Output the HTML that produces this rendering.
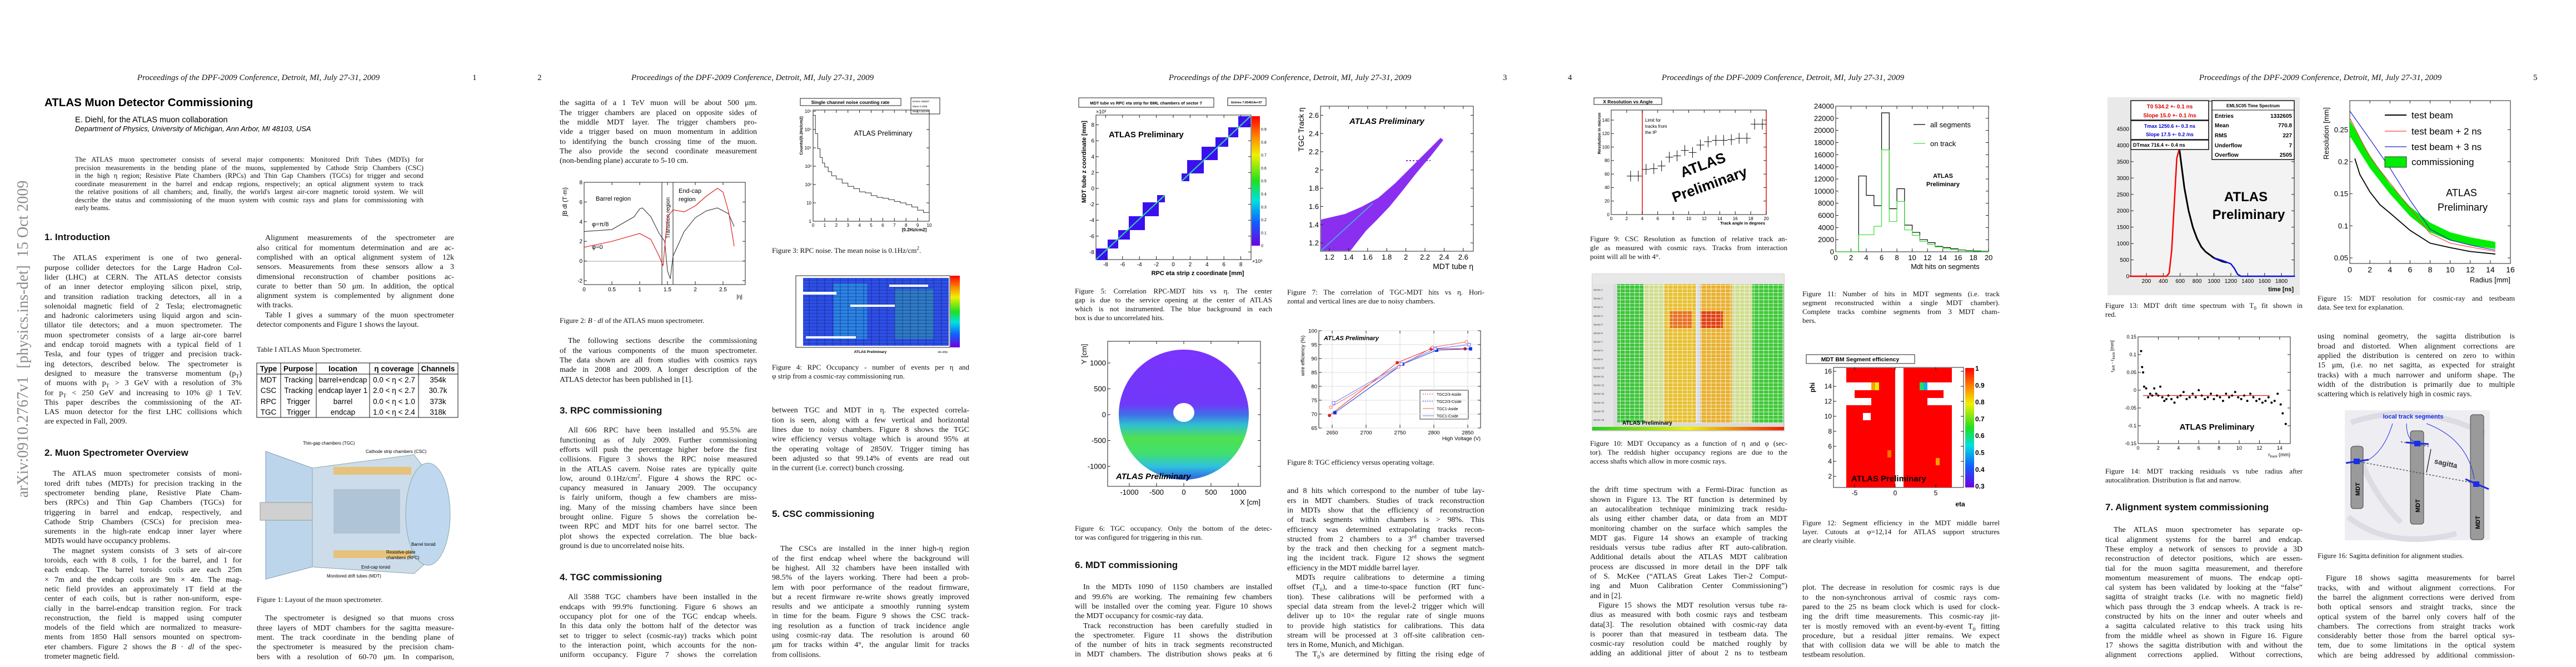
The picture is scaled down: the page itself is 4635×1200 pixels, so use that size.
<!DOCTYPE html>
<html><head><meta charset="utf-8">
<style>
body{margin:0;background:#fff;}
#root{position:relative;width:4635px;height:1200px;overflow:hidden;background:#fff;}
.pg{position:absolute;top:0;width:927px;height:1200px;}
.hdr{position:absolute;top:132px;font:italic 15px "Liberation Serif",serif;color:#111;white-space:nowrap;transform:translateX(-50%);}
.pn{position:absolute;top:132px;font:15px "Liberation Serif",serif;color:#111;}
.tb{position:absolute;width:355px;font:14px/17.3px "Liberation Serif",serif;color:#111;}
.l{white-space:nowrap;text-align:justify;text-align-last:justify;height:17.3px;}
.e{text-align-last:left;}
.i{padding-left:15px;}
.cap{position:absolute;width:355px;font:13px/16px "Liberation Serif",serif;color:#111;}
.cap .l{height:16px;}
.h{position:absolute;font:bold 17px/20px "Liberation Sans",sans-serif;color:#111;white-space:nowrap;}
sub{font-size:70%;line-height:0;}
sup{font-size:70%;line-height:0;}
svg text{font-family:"Liberation Sans",sans-serif;}
</style></head><body>
<div id="root">

<svg id="figs" width="4635" height="1200" style="position:absolute;left:0;top:0">
<defs>
<linearGradient id="cbar" x1="0" y1="0" x2="0" y2="1"><stop offset="0" stop-color="#ff0000"/><stop offset="0.15" stop-color="#ff8000"/><stop offset="0.3" stop-color="#f0f000"/><stop offset="0.5" stop-color="#20e020"/><stop offset="0.65" stop-color="#00e0e0"/><stop offset="0.82" stop-color="#1060ff"/><stop offset="1" stop-color="#7000e0"/></linearGradient>
<linearGradient id="gyr" x1="0" y1="0" x2="1" y2="0"><stop offset="0" stop-color="#20d020"/><stop offset="0.5" stop-color="#f0f000"/><stop offset="1" stop-color="#f02000"/></linearGradient>
<linearGradient id="tgcgrad" x1="0" y1="0" x2="0" y2="1"><stop offset="0" stop-color="#7a33ff"/><stop offset="0.42" stop-color="#7038f8"/><stop offset="0.5" stop-color="#4070e8"/><stop offset="0.58" stop-color="#30c0d0"/><stop offset="0.68" stop-color="#50e050"/><stop offset="0.8" stop-color="#40e070"/><stop offset="0.9" stop-color="#30c0e0"/><stop offset="1" stop-color="#3060e0"/></linearGradient>
<pattern id="cells" width="8.6" height="6.5" patternUnits="userSpaceOnUse"><rect width="8.6" height="6.5" fill="none" stroke="#ffffff" stroke-width="0.7"/></pattern>
<pattern id="rpccells" width="14" height="6" patternUnits="userSpaceOnUse"><rect width="14" height="6" fill="none" stroke="#10207a" stroke-width="0.6"/></pattern>
</defs>

<!-- Figure 1 detector -->
<g>
<polygon points="478,812 562,842 562,1020 478,1042" fill="#bcd5ea" stroke="#7f9fbd"/>
<rect x="468" y="904" width="95" height="32" fill="#d0d0d0" stroke="#999"/>
<polygon points="562,842 745,818 792,880 792,990 745,1032 562,1020" fill="#cddcea" stroke="#8aa"/>
<rect x="600" y="840" width="140" height="14" fill="#e6c27a"/>
<rect x="600" y="990" width="140" height="14" fill="#e6c27a"/>
<rect x="600" y="880" width="120" height="80" fill="#b0c4d8"/>
<ellipse cx="770" cy="925" rx="40" ry="92" fill="#bfd8ef" stroke="#8aa"/>
<text x="545" y="800" font-size="8">Thin-gap chambers (TGC)</text>
<text x="658" y="815" font-size="8">Cathode strip chambers (CSC)</text>
<text x="740" y="982" font-size="8">Barrel toroid</text>
<text x="695" y="996" font-size="8">Resistive-plate</text>
<text x="695" y="1006" font-size="8">chambers (RPC)</text>
<text x="650" y="1023" font-size="8">End-cap toroid</text>
<text x="588" y="1039" font-size="8">Monitored drift tubes (MDT)</text>
</g>

<!-- Table I -->
<g font-family="Liberation Serif" font-size="13.5">
<rect x="462" y="653" width="362" height="98" fill="none" stroke="#111"/>
<line x1="462" y1="673" x2="824" y2="673" stroke="#111"/>
<line x1="505" y1="653" x2="505" y2="751" stroke="#111"/><line x1="569" y1="653" x2="569" y2="751" stroke="#111"/>
<line x1="665" y1="653" x2="665" y2="751" stroke="#111"/><line x1="753" y1="653" x2="753" y2="751" stroke="#111"/>
<g font-family="Liberation Serif" font-weight="bold" text-anchor="middle">
<text x="483" y="668" font-family="Liberation Serif">Type</text><text x="537" y="668" font-family="Liberation Serif">Purpose</text><text x="617" y="668" font-family="Liberation Serif">location</text><text x="709" y="668" font-family="Liberation Serif">η coverage</text><text x="788" y="668" font-family="Liberation Serif">Channels</text></g>
<g text-anchor="middle">
<text x="483" y="688" font-family="Liberation Serif">MDT</text><text x="537" y="688" font-family="Liberation Serif">Tracking</text><text x="617" y="688" font-family="Liberation Serif">barrel+endcap</text><text x="709" y="688" font-family="Liberation Serif">0.0 &lt; η &lt; 2.7</text><text x="788" y="688" font-family="Liberation Serif">354k</text>
<text x="483" y="707" font-family="Liberation Serif">CSC</text><text x="537" y="707" font-family="Liberation Serif">Tracking</text><text x="617" y="707" font-family="Liberation Serif">endcap layer 1</text><text x="709" y="707" font-family="Liberation Serif">2.0 &lt; η &lt; 2.7</text><text x="788" y="707" font-family="Liberation Serif">30.7k</text>
<text x="483" y="727" font-family="Liberation Serif">RPC</text><text x="537" y="727" font-family="Liberation Serif">Trigger</text><text x="617" y="727" font-family="Liberation Serif">barrel</text><text x="709" y="727" font-family="Liberation Serif">0.0 &lt; η &lt; 1.0</text><text x="788" y="727" font-family="Liberation Serif">373k</text>
<text x="483" y="746" font-family="Liberation Serif">TGC</text><text x="537" y="746" font-family="Liberation Serif">Trigger</text><text x="617" y="746" font-family="Liberation Serif">endcap</text><text x="709" y="746" font-family="Liberation Serif">1.0 &lt; η &lt; 2.4</text><text x="788" y="746" font-family="Liberation Serif">318k</text>
</g></g>

<!-- Figure 2 -->
<g>
<rect x="1051" y="328" width="290" height="184" fill="none" stroke="#222"/>
<line x1="1051" y1="470" x2="1341" y2="470" stroke="#888" stroke-width="0.8"/>
<line x1="1191" y1="328" x2="1191" y2="512" stroke="#222"/><line x1="1211" y1="328" x2="1211" y2="512" stroke="#222"/>
<text transform="translate(1205,392) rotate(-90)" font-size="10" text-anchor="middle">Transition region</text>
<text x="1072" y="361" font-size="11">Barrel region</text>
<text x="1221" y="347" font-size="11">End-cap</text><text x="1221" y="362" font-size="11">region</text>
<text x="1065" y="407" font-size="11">φ=π/8</text><text x="1065" y="448" font-size="11">φ=0</text>
<text x="1336" y="537" font-size="10" text-anchor="end">|η|</text>
<text transform="translate(1020,363) rotate(-90)" font-size="11" text-anchor="middle">∫B dl  (T·m)</text>
<g id="f2g"></g></g>

<!-- Figure 3 -->
<g>
<rect x="1440" y="177" width="181" height="13" fill="#fff" stroke="#222"/>
<text x="1530" y="187" font-size="8.5" font-weight="bold" text-anchor="middle">Single channel noise counting rate</text>
<rect x="1639" y="176" width="52" height="29" fill="#fff" stroke="#222"/>
<text x="1642" y="184" font-size="4.5">Entries   195057</text><text x="1642" y="193" font-size="4.5">Mean      0.1008</text><text x="1642" y="202" font-size="4.5">RMS       0.2824</text>
<rect x="1463" y="198" width="209" height="200" fill="none" stroke="#222"/>
<text x="1589" y="244" font-size="12.5" text-anchor="middle">ATLAS Preliminary</text>
<text x="1645" y="416" font-size="8" font-weight="bold" text-anchor="middle">[0.2Hz/cm2]</text>
<text transform="translate(1444,244) rotate(-90)" font-size="7.5" font-weight="bold" text-anchor="middle">Counts/(0.2Hz/cm2)</text>
<g id="f3g"></g></g>

<!-- Figure 4 -->
<g>
<rect x="1432" y="496" width="277" height="129" fill="#fff" stroke="#222"/>
<rect x="1445" y="500" width="262" height="122" fill="#2e50e8"/>
<rect x="1500" y="510" width="60" height="100" fill="#2ab0e0" opacity="0.55"/>
<rect x="1610" y="520" width="70" height="90" fill="#30d080" opacity="0.35"/>
<rect x="1445" y="500" width="262" height="122" fill="url(#rpccells)"/>
<rect x="1445" y="525" width="60" height="5" fill="#fff"/><rect x="1530" y="548" width="80" height="4" fill="#fff"/><rect x="1600" y="512" width="70" height="4" fill="#fff"/><rect x="1450" y="605" width="90" height="4" fill="#fff"/>
<rect x="1710" y="496" width="17" height="129" fill="url(#cbar)"/>
<text x="1566" y="635" font-size="6.5" font-weight="bold" text-anchor="middle">ATLAS Preliminary</text>
<text x="1705" y="635" font-size="5" text-anchor="end">eta strip</text>
</g>

<!-- Figure 5 -->
<g>
<rect x="1941" y="176" width="243" height="17" fill="#fff" stroke="#222"/>
<text x="2062" y="188" font-size="7.5" font-weight="bold" text-anchor="middle">MDT tube vs RPC eta strip for BML chambers of sector 7</text>
<rect x="2209" y="176" width="69" height="14" fill="#fff" stroke="#222"/>
<text x="2243" y="186" font-size="5.5" font-weight="bold" text-anchor="middle">Entries 7.654614e+07</text>
<rect x="1972" y="207" width="279" height="260" fill="#fff" stroke="#222"/>
<g fill="#3a10f0">
<rect x="1972" y="447" width="21" height="21"/><rect x="1993" y="431" width="19" height="16"/><rect x="2012" y="414" width="21" height="17"/><rect x="2031" y="389" width="29" height="25"/><rect x="2056" y="364" width="29" height="25"/><rect x="2082" y="351" width="14" height="13"/>
<rect x="2126" y="312" width="14" height="14"/><rect x="2136" y="288" width="30" height="24"/><rect x="2162" y="264" width="29" height="24"/><rect x="2187" y="247" width="23" height="17"/><rect x="2210" y="229" width="18" height="18"/><rect x="2228" y="209" width="22" height="20"/></g>
<line x1="1972" y1="467" x2="2096" y2="351" stroke="#30d8a0" stroke-width="2"/>
<line x1="2126" y1="326" x2="2250" y2="209" stroke="#30d8a0" stroke-width="2"/>
<rect x="2252" y="209" width="15" height="233" fill="url(#cbar)"/>
<text x="1995" y="247" font-size="15" font-weight="bold">ATLAS Preliminary</text>
<text x="2155" y="495" font-size="11" font-weight="bold" text-anchor="middle">RPC eta strip z coordinate [mm]</text>
<text transform="translate(1954,291) rotate(-90)" font-size="11" font-weight="bold" text-anchor="middle">MDT tube z coordinate [mm]</text>
<text x="1972" y="204" font-size="9">×10³</text><text x="2253" y="473" font-size="9">×10³</text>
<g id="f5g"></g></g>

<!-- Figure 6 -->
<g>
<rect x="1993" y="614" width="275" height="261" fill="#fff" stroke="#222"/>
<circle cx="2130" cy="746" r="117" fill="url(#tgcgrad)"/>
<ellipse cx="2130" cy="742" rx="19" ry="17" fill="#fff"/>
<text x="2008" y="862" font-size="15" font-weight="bold" font-style="italic">ATLAS Preliminary</text>
<text x="2268" y="908" font-size="13" text-anchor="end">X [cm]</text>
<text transform="translate(1955,637) rotate(-90)" font-size="13" text-anchor="middle">Y [cm]</text>
<g id="f6g"></g></g>

<!-- Figure 7 -->
<g>
<rect x="2376" y="191" width="275" height="261" fill="#fff" stroke="#222"/>
<polygon points="2377,451 2377,395 2420,385 2450,372 2480,356 2510,330 2540,300 2570,270 2592,248 2597,252 2575,280 2548,312 2522,345 2500,372 2478,395 2458,415 2440,438 2430,451" fill="#8a2ff0"/>
<line x1="2530" y1="289" x2="2574" y2="289" stroke="#8a2ff0" stroke-width="2" stroke-dasharray="3,3"/>
<line x1="2377" y1="451" x2="2470" y2="366" stroke="#30c8d8" stroke-width="1.5"/>
<text x="2428" y="223" font-size="15" font-weight="bold" font-style="italic">ATLAS Preliminary</text>
<text x="2651" y="484" font-size="14" text-anchor="end">MDT tube η</text>
<text transform="translate(2346,233) rotate(-90)" font-size="14" text-anchor="middle">TGC Track η</text>
<g id="f7g"></g></g>

<!-- Figure 8 -->
<g>
<rect x="2373" y="595" width="291" height="175" fill="#fff" stroke="#222"/>
<text x="2382" y="612" font-size="11" font-weight="bold" font-style="italic">ATLAS Preliminary</text>
<text x="2664" y="792" font-size="9.5" text-anchor="end">High Voltage (V)</text>
<text transform="translate(2347,640) rotate(-90)" font-size="9" text-anchor="middle">wire efficiency (%)</text>
<rect x="2555" y="702" width="87" height="52" fill="#fff" stroke="#333"/>
<g id="f8g"></g></g>

<!-- Figure 9 -->
<g>
<rect x="2868" y="176" width="122" height="12" fill="#fff" stroke="#222"/>
<text x="2929" y="186" font-size="8.5" font-weight="bold" text-anchor="middle">X Resolution vs Angle</text>
<rect x="2899" y="198" width="279" height="188" fill="#fff" stroke="#222"/>
<line x1="2955" y1="198" x2="2955" y2="386" stroke="#e01010" stroke-width="1.5"/>
<line x1="3178" y1="198" x2="3178" y2="386" stroke="#e01010" stroke-width="1.5"/>
<text x="2960" y="219" font-size="8">Limit for</text><text x="2960" y="230" font-size="8">tracks from</text><text x="2960" y="241" font-size="8">the IP</text>
<text transform="translate(3067,305) rotate(-20)" font-size="26" font-weight="bold" text-anchor="middle">ATLAS</text>
<text transform="translate(3079,340) rotate(-20)" font-size="26" font-weight="bold" text-anchor="middle">Preliminary</text>
<text x="3176" y="404" font-size="7.5" font-weight="bold" text-anchor="end">Track angle in degrees</text>
<text transform="translate(2880,240) rotate(-90)" font-size="7.5" font-weight="bold" text-anchor="middle">Resolution in micron</text>
<g id="f9g"></g></g>

<!-- Figure 10 -->
<g>
<rect x="2865" y="493" width="345" height="282" fill="#d9dadc" stroke="#aaa"/>
<rect x="2865" y="493" width="345" height="18" fill="#e8e8e8"/>
<rect x="2865" y="511" width="38" height="262" fill="#e4e4e6"/>
<rect x="2910" y="511" width="47" height="250" fill="#3ec43a"/>
<rect x="2995" y="511" width="56" height="250" fill="#e8c030"/>
<rect x="3005" y="560" width="40" height="30" fill="#e87020"/>
<rect x="3060" y="511" width="56" height="250" fill="#e8b030"/>
<rect x="3060" y="560" width="40" height="30" fill="#e04010"/>
<rect x="3153" y="511" width="56" height="250" fill="#40c838"/>
<rect x="2958" y="511" width="36" height="250" fill="#c8e040" opacity="0.5"/>
<rect x="3117" y="511" width="35" height="250" fill="#c8e040" opacity="0.5"/>
<rect x="2910" y="511" width="299" height="250" fill="url(#cells)"/>
<rect x="2865" y="768" width="345" height="6" fill="url(#gyr)"/>
<text x="2919" y="764" font-size="10" font-weight="bold">ATLAS Preliminary</text>
<g id="f10g" font-size="4.5" fill="#333"></g></g>

<!-- Figure 11 -->
<g>
<rect x="3303" y="191" width="275" height="262" fill="#fff" stroke="#222"/>
<line x1="3443" y1="224" x2="3464" y2="224" stroke="#000" stroke-width="1.2"/>
<text x="3473" y="229" font-size="13">all segments</text>
<line x1="3443" y1="258" x2="3464" y2="258" stroke="#33e033" stroke-width="1.2"/>
<text x="3473" y="263" font-size="13">on track</text>
<text x="3496" y="320" font-size="11" font-weight="bold" text-anchor="middle">ATLAS</text>
<text x="3496" y="335" font-size="11" font-weight="bold" text-anchor="middle">Preliminary</text>
<text x="3500" y="484" font-size="13" text-anchor="middle">Mdt hits on segments</text>
<g id="f11g"></g></g>

<!-- Figure 12 -->
<g>
<rect x="3250" y="638" width="195" height="16" fill="#fff" stroke="#222"/>
<text x="3347" y="650" font-size="10.5" font-weight="bold" text-anchor="middle">MDT BM Segment efficiency</text>
<rect x="3299" y="661" width="234" height="216" fill="#fff" stroke="#222"/>
<rect x="3322" y="662" width="88" height="215" fill="#ff0000"/>
<rect x="3425" y="662" width="87" height="215" fill="#ff0000"/>
<rect x="3322" y="688" width="45" height="14" fill="#fff"/><rect x="3367" y="688" width="7" height="14" fill="#f8a000"/><rect x="3374" y="688" width="7" height="14" fill="#f0f000"/>
<rect x="3322" y="702" width="15" height="14" fill="#fff"/><rect x="3322" y="716" width="45" height="13" fill="#fff"/>
<rect x="3352" y="743" width="14" height="13" fill="#fff"/>
<rect x="3468" y="688" width="44" height="14" fill="#fff"/><rect x="3454" y="688" width="7" height="14" fill="#20e060"/><rect x="3461" y="688" width="7" height="14" fill="#10b0f0"/>
<rect x="3497" y="702" width="15" height="14" fill="#fff"/><rect x="3468" y="716" width="44" height="13" fill="#fff"/>
<rect x="3483" y="824" width="7" height="13" fill="#f8a000"/><rect x="3396" y="810" width="7" height="13" fill="#f87000"/>
<rect x="3536" y="662" width="16" height="215" fill="url(#cbar)"/>
<text x="3331" y="866" font-size="15" font-weight="bold">ATLAS Preliminary</text>
<text x="3527" y="911" font-size="12" font-weight="bold" text-anchor="middle">eta</text>
<text transform="translate(3265,697) rotate(-90)" font-size="12" font-weight="bold" text-anchor="middle">phi</text>
<g id="f12g"></g></g>

<!-- Figure 13 -->
<g>
<rect x="3792" y="175" width="346" height="356" fill="#e9e9e9"/>
<rect x="3834" y="182" width="294" height="315" fill="#f3f3f3" stroke="#111"/>
<text x="4041" y="362" font-size="24" font-weight="bold" text-anchor="middle">ATLAS</text>
<text x="4046" y="394" font-size="24" font-weight="bold" text-anchor="middle">Preliminary</text>
<text x="4127" y="524" font-size="11" font-weight="bold" text-anchor="end">time [ns]</text>
<g id="f13g"></g>
<rect x="3834" y="181" width="140" height="35" fill="#fff" stroke="#111" stroke-width="1.5"/>
<text x="3904" y="195" font-size="10" fill="#e00000" font-weight="bold" text-anchor="middle">T0 534.2 +- 0.1 ns</text>
<text x="3904" y="211" font-size="10" fill="#e00000" font-weight="bold" text-anchor="middle">Slope 15.0 +- 0.1 /ns</text>
<rect x="3834" y="217" width="140" height="34" fill="#fff" stroke="#111" stroke-width="1.5"/>
<text x="3904" y="230" font-size="9" fill="#0000d0" font-weight="bold" text-anchor="middle">Tmax 1250.6 +- 0.3 ns</text>
<text x="3904" y="245" font-size="9" fill="#0000d0" font-weight="bold" text-anchor="middle">Slope 17.5 +- 0.2 /ns</text>
<rect x="3834" y="252" width="140" height="17" fill="#fff" stroke="#111" stroke-width="1.5"/>
<text x="3838" y="264" font-size="9" font-weight="bold">DTmax 716.4 +- 0.4 ns</text>
<rect x="3980" y="181" width="148" height="106" fill="#fff" stroke="#111" stroke-width="1.5"/>
<line x1="3980" y1="198" x2="4128" y2="198" stroke="#111"/>
<text x="4054" y="193" font-size="8" font-weight="bold" text-anchor="middle">EML5C05 Time Spectrum</text>
<g font-size="10" font-weight="bold"><text x="3985" y="212">Entries</text><text x="4124" y="212" text-anchor="end">1332605</text>
<text x="3985" y="229">Mean</text><text x="4124" y="229" text-anchor="end">770.8</text>
<text x="3985" y="247">RMS</text><text x="4124" y="247" text-anchor="end">227</text>
<text x="3985" y="265">Underflow</text><text x="4124" y="265" text-anchor="end">7</text>
<text x="3985" y="282">Overflow</text><text x="4124" y="282" text-anchor="end">2505</text></g>
</g>

<!-- Figure 14 -->
<g>
<rect x="3847" y="606" width="274" height="192" fill="#fff" stroke="#222"/>
<text x="3989" y="773" font-size="15" font-weight="bold" text-anchor="middle">ATLAS Preliminary</text>
<text x="4121" y="821" font-size="9" text-anchor="end">r<tspan font-size="6" dy="2">track</tspan><tspan dy="-2"> (mm)</tspan></text>
<text transform="translate(3803,641) rotate(-90)" font-size="8.5" text-anchor="middle">r<tspan font-size="6" dy="2">drift</tspan><tspan dy="-2"> - r</tspan><tspan font-size="6" dy="2">track</tspan><tspan dy="-2"> [mm]</tspan></text>
<g id="f14g"></g></g>

<!-- Figure 15 -->
<g>
<rect x="4228" y="181" width="289" height="293" fill="#fff" stroke="#222"/>
<g id="f15g"></g>
<line x1="4291" y1="207" x2="4330" y2="207" stroke="#000" stroke-width="2"/><text x="4339" y="213" font-size="17">test beam</text>
<line x1="4291" y1="236" x2="4330" y2="236" stroke="#ff4040" stroke-width="1.3"/><text x="4339" y="242" font-size="17">test beam + 2 ns</text>
<line x1="4291" y1="264" x2="4330" y2="264" stroke="#2020d0" stroke-width="1.3"/><text x="4339" y="270" font-size="17">test beam + 3 ns</text>
<rect x="4291" y="282" width="39" height="19" fill="#00ee00" stroke="#333"/><text x="4339" y="297" font-size="17">commissioning</text>
<text x="4429" y="353" font-size="18" text-anchor="middle">ATLAS</text>
<text x="4431" y="379" font-size="18" text-anchor="middle">Preliminary</text>
<text x="4517" y="508" font-size="13" text-anchor="end">Radius [mm]</text>
<text transform="translate(4190,240) rotate(-90)" font-size="13" text-anchor="middle">Resolution  [mm]</text>
</g>

<!-- Figure 16 -->
<g>
<rect x="4219" y="738" width="261" height="234" fill="#eeeef2"/>
<path d="M4230,760 Q4350,720 4470,780 M4225,930 Q4300,990 4420,960 M4240,800 Q4260,880 4320,940" stroke="#dcdce4" stroke-width="10" fill="none"/>
<rect x="4230" y="803" width="22" height="112" rx="5" fill="#9a9a9a" stroke="#444"/>
<rect x="4337" y="775" width="24" height="168" rx="5" fill="#9a9a9a" stroke="#444"/>
<rect x="4445" y="746" width="24" height="225" rx="5" fill="#9a9a9a" stroke="#444"/>
<text transform="translate(4246,880) rotate(-90)" font-size="11" font-weight="bold" text-anchor="middle">MDT</text>
<text transform="translate(4354,910) rotate(-90)" font-size="11" font-weight="bold" text-anchor="middle">MDT</text>
<text transform="translate(4462,940) rotate(-90)" font-size="11" font-weight="bold" text-anchor="middle">MDT</text>
<line x1="4241" y1="830" x2="4457" y2="870" stroke="#555" stroke-width="1.5" stroke-dasharray="3,3"/>
<line x1="4320" y1="795" x2="4370" y2="803" stroke="#555" stroke-width="1.5" stroke-dasharray="3,3"/>
<line x1="4221" y1="833" x2="4262" y2="827" stroke="#1a2ee8" stroke-width="3"/><rect x="4235" y="825" width="11" height="10" fill="#1a2ee8"/>
<line x1="4329" y1="796" x2="4370" y2="799" stroke="#1a2ee8" stroke-width="3"/><rect x="4344" y="793" width="11" height="10" fill="#1a2ee8"/>
<line x1="4436" y1="862" x2="4478" y2="880" stroke="#1a2ee8" stroke-width="3"/><rect x="4450" y="866" width="11" height="10" fill="#1a2ee8"/>
<line x1="4374" y1="808" x2="4366" y2="850" stroke="#111" stroke-width="1.2"/>
<text transform="translate(4400,838) rotate(12)" font-size="13" font-weight="bold" fill="#333" text-anchor="middle">sagitta</text>
<text x="4342" y="753" font-size="11" font-weight="bold" fill="#1a2ee8" text-anchor="middle">local track segments</text>
<path d="M4305,762 Q4290,810 4262,827 M4330,762 Q4330,790 4345,795 M4366,762 Q4440,790 4452,862" stroke="#1a2ee8" stroke-width="1" fill="none"/>
</g>
</svg>

<!-- arXiv stamp -->
<div style="position:absolute;left:-268px;top:594px;width:620px;height:32px;transform:rotate(-90deg);transform-origin:center;font:28px/32px 'Liberation Serif',serif;color:#8c8c8c;white-space:pre;text-align:center;">arXiv:0910.2767v1  [physics.ins-det]  15 Oct 2009</div>

<!-- PAGE 1 -->
<div class="pg" style="left:0">
<div class="hdr" style="left:465px">Proceedings of the DPF-2009 Conference, Detroit, MI, July 27-31, 2009</div>
<div class="pn" style="left:850px">1</div>
<div style="position:absolute;left:80px;top:172px;font:bold 20.5px/26px 'Liberation Sans',sans-serif;">ATLAS Muon Detector Commissioning</div>
<div style="position:absolute;left:135px;top:207px;font:14.5px/18px 'Liberation Sans',sans-serif;">E. Diehl, for the ATLAS muon collaboration</div>
<div style="position:absolute;left:135px;top:224px;font:italic 13px/16px 'Liberation Sans',sans-serif;">Department of Physics, University of Michigan, Ann Arbor, MI 48103, USA</div>
<div class="tb" style="left:135px;top:280px;width:627px;font-size:12.5px;line-height:14.5px;">
<div class="l" style="height:14.5px">The ATLAS muon spectrometer consists of several major components: Monitored Drift Tubes (MDTs) for</div>
<div class="l" style="height:14.5px">precision measurements in the bending plane of the muons, supplemented by Cathode Strip Chambers (CSC)</div>
<div class="l" style="height:14.5px">in the high η region; Resistive Plate Chambers (RPCs) and Thin Gap Chambers (TGCs) for trigger and second</div>
<div class="l" style="height:14.5px">coordinate measurement in the barrel and endcap regions, respectively; an optical alignment system to track</div>
<div class="l" style="height:14.5px">the relative positions of all chambers; and, finally, the world's largest air-core magnetic toroid system. We will</div>
<div class="l" style="height:14.5px">describe the status and commissioning of the muon system with cosmic rays and plans for commissioning with</div>
<div class="l e" style="height:14.5px">early beams.</div></div>
<div class="h" style="left:80px;top:417px">1. Introduction</div>
<div class="tb" style="left:80px;top:456.4px">
<div class="l i">The ATLAS experiment is one of two general-</div>
<div class="l">purpose collider detectors for the Large Hadron Col-</div>
<div class="l">lider (LHC) at CERN. The ATLAS detector consists</div>
<div class="l">of an inner detector employing silicon pixel, strip,</div>
<div class="l">and transition radiation tracking detectors, all in a</div>
<div class="l">solenoidal magnetic field of 2 Tesla; electromagnetic</div>
<div class="l">and hadronic calorimeters using liquid argon and scin-</div>
<div class="l">tillator tile detectors; and a muon spectrometer. The</div>
<div class="l">muon spectrometer consists of a large air-core barrel</div>
<div class="l">and endcap toroid magnets with a typical field of 1</div>
<div class="l">Tesla, and four types of trigger and precision track-</div>
<div class="l">ing detectors, described below. The spectrometer is</div>
<div class="l">designed to measure the transverse momentum (p<sub>T</sub>)</div>
<div class="l">of muons with p<sub>T</sub> &gt; 3 GeV with a resolution of 3%</div>
<div class="l">for p<sub>T</sub> &lt; 250 GeV and increasing to 10% @ 1 TeV.</div>
<div class="l">This paper describes the commissioning of the AT-</div>
<div class="l">LAS muon detector for the first LHC collisions which</div>
<div class="l e">are expected in Fall, 2009.</div></div>
<div class="h" style="left:80px;top:805px">2. Muon Spectrometer Overview</div>
<div class="tb" style="left:80px;top:844.4px">
<div class="l i">The ATLAS muon spectrometer consists of moni-</div>
<div class="l">tored drift tubes (MDTs) for precision tracking in the</div>
<div class="l">spectrometer bending plane, Resistive Plate Cham-</div>
<div class="l">bers (RPCs) and Thin Gap Chambers (TGCs) for</div>
<div class="l">triggering in barrel and endcap, respectively, and</div>
<div class="l">Cathode Strip Chambers (CSCs) for precision mea-</div>
<div class="l">surements in the high-rate endcap inner layer where</div>
<div class="l e">MDTs would have occupancy problems.</div>
<div class="l i">The magnet system consists of 3 sets of air-core</div>
<div class="l">toroids, each with 8 coils, 1 for the barrel, and 1 for</div>
<div class="l">each endcap. The barrel toroids coils are each 25m</div>
<div class="l">× 7m and the endcap coils are 9m × 4m. The mag-</div>
<div class="l">netic field provides an approximately 1T field at the</div>
<div class="l">center of each coils, but is rather non-uniform, espe-</div>
<div class="l">cially in the barrel-endcap transition region. For track</div>
<div class="l">reconstruction, the field is mapped using computer</div>
<div class="l">models of the field which are normalized to measure-</div>
<div class="l">ments from 1850 Hall sensors mounted on spectrom-</div>
<div class="l">eter chambers. Figure 2 shows the <i>B · dl</i> of the spec-</div>
<div class="l e">trometer magnetic field.</div></div>
<div class="tb" style="left:462px;top:420.4px">
<div class="l i">Alignment measurements of the spectrometer are</div>
<div class="l">also critical for momentum determination and are ac-</div>
<div class="l">complished with an optical alignment system of 12k</div>
<div class="l">sensors. Measurements from these sensors allow a 3</div>
<div class="l">dimensional reconstruction of chamber positions ac-</div>
<div class="l">curate to better than 50 μm. In addition, the optical</div>
<div class="l">alignment system is complemented by alignment done</div>
<div class="l e">with tracks.</div>
<div class="l i">Table I gives a summary of the muon spectrometer</div>
<div class="l e">detector components and Figure 1 shows the layout.</div></div>
<div class="cap" style="left:462px;top:621px"><div class="l e">Table I ATLAS Muon Spectrometer.</div></div>
<div class="cap" style="left:462px;top:1071px"><div class="l e">Figure 1: Layout of the muon spectrometer.</div></div>
<div class="tb" style="left:462px;top:1104.4px">
<div class="l i">The spectrometer is designed so that muons cross</div>
<div class="l">three layers of MDT chambers for the sagitta measure-</div>
<div class="l">ment. The track coordinate in the bending plane of</div>
<div class="l">the spectrometer is measured by the precision cham-</div>
<div class="l">bers with a resolution of 60-70 μm. In comparison,</div></div>
</div>

<!-- PAGE 2 -->
<div class="pg" style="left:927px">
<div class="pn" style="left:40px">2</div>
<div class="hdr" style="left:427px">Proceedings of the DPF-2009 Conference, Detroit, MI, July 27-31, 2009</div>
<div class="tb" style="left:80px;top:177.4px">
<div class="l">the sagitta of a 1 TeV muon will be about 500 μm.</div>
<div class="l">The trigger chambers are placed on opposite sides of</div>
<div class="l">the middle MDT layer. The trigger chambers pro-</div>
<div class="l">vide a trigger based on muon momentum in addition</div>
<div class="l">to identifying the bunch crossing time of the muon.</div>
<div class="l">The also provide the second coordinate measurement</div>
<div class="l e">(non-bending plane) accurate to 5-10 cm.</div></div>
<div class="cap" style="left:80px;top:569px"><div class="l e">Figure 2: <i>B · dl</i> of the ATLAS muon spectrometer.</div></div>
<div class="tb" style="left:80px;top:605.4px">
<div class="l i">The following sections describe the commissioning</div>
<div class="l">of the various components of the muon spectrometer.</div>
<div class="l">The data shown are all from studies with cosmics rays</div>
<div class="l">made in 2008 and 2009. A longer description of the</div>
<div class="l e">ATLAS detector has been published in [1].</div></div>
<div class="h" style="left:80px;top:729px">3. RPC commissioning</div>
<div class="tb" style="left:80px;top:766.4px">
<div class="l i">All 606 RPC have been installed and 95.5% are</div>
<div class="l">functioning as of July 2009. Further commissioning</div>
<div class="l">efforts will push the percentage higher before the first</div>
<div class="l">collisions. Figure 3 shows the RPC noise measured</div>
<div class="l">in the ATLAS cavern. Noise rates are typically quite</div>
<div class="l">low, around 0.1Hz/cm<sup>2</sup>. Figure 4 shows the RPC oc-</div>
<div class="l">cupancy measured in January 2009. The occupancy</div>
<div class="l">is fairly uniform, though a few chambers are miss-</div>
<div class="l">ing. Many of the missing chambers have since been</div>
<div class="l">brought online. Figure 5 shows the correlation be-</div>
<div class="l">tween RPC and MDT hits for one barrel sector. The</div>
<div class="l">plot shows the expected correlation. The blue back-</div>
<div class="l e">ground is due to uncorrelated noise hits.</div></div>
<div class="h" style="left:80px;top:1029px">4. TGC commissioning</div>
<div class="tb" style="left:80px;top:1066.4px">
<div class="l i">All 3588 TGC chambers have been installed in the</div>
<div class="l">endcaps with 99.9% functioning. Figure 6 shows an</div>
<div class="l">occupancy plot for one of the TGC endcap wheels.</div>
<div class="l">In this data only the bottom half of the detector was</div>
<div class="l">set to trigger to select (cosmic-ray) tracks which point</div>
<div class="l">to the interaction point, which accounts for the non-</div>
<div class="l">uniform occupancy. Figure 7 shows the correlation</div></div>
<div class="cap" style="left:462px;top:443px"><div class="l e">Figure 3: RPC noise. The mean noise is 0.1Hz/cm<sup>2</sup>.</div></div>
<div class="cap" style="left:462px;top:653px"><div class="l">Figure 4: RPC Occupancy - number of events per η and</div><div class="l e">φ strip from a cosmic-ray commissioning run.</div></div>
<div class="tb" style="left:462px;top:730.4px">
<div class="l">between TGC and MDT in η. The expected correla-</div>
<div class="l">tion is seen, along with a few vertical and horizontal</div>
<div class="l">lines due to noisy chambers. Figure 8 shows the TGC</div>
<div class="l">wire efficiency versus voltage which is around 95% at</div>
<div class="l">the operating voltage of 2850V. Trigger timing has</div>
<div class="l">been adjusted so that 99.14% of events are read out</div>
<div class="l e">in the current (i.e. correct) bunch crossing.</div></div>
<div class="h" style="left:462px;top:915px">5. CSC commissioning</div>
<div class="tb" style="left:462px;top:979.4px">
<div class="l i">The CSCs are installed in the inner high-η region</div>
<div class="l">of the first endcap wheel where the background will</div>
<div class="l">be highest. All 32 chambers have been installed with</div>
<div class="l">98.5% of the layers working. There had been a prob-</div>
<div class="l">lem with poor performance of the readout firmware,</div>
<div class="l">but a recent firmware re-write shows greatly improved</div>
<div class="l">results and we anticipate a smoothly running system</div>
<div class="l">in time for the beam. Figure 9 shows the CSC track-</div>
<div class="l">ing resolution as a function of track incidence angle</div>
<div class="l">using cosmic-ray data. The resolution is around 60</div>
<div class="l">μm for tracks within 4°, the angular limit for tracks</div>
<div class="l e">from collisions.</div></div>
</div>

<!-- PAGE 3 -->
<div class="pg" style="left:1854px">
<div class="hdr" style="left:467px">Proceedings of the DPF-2009 Conference, Detroit, MI, July 27-31, 2009</div>
<div class="pn" style="left:850px">3</div>
<div class="cap" style="left:80px;top:516px"><div class="l">Figure 5: Correlation RPC-MDT hits vs η. The center</div><div class="l">gap is due to the service opening at the center of ATLAS</div><div class="l">which is not instrumented. The blue background in each</div><div class="l e">box is due to uncorrelated hits.</div></div>
<div class="cap" style="left:80px;top:943px"><div class="l">Figure 6: TGC occupancy. Only the bottom of the detec-</div><div class="l e">tor was configured for triggering in this run.</div></div>
<div class="h" style="left:80px;top:1007px">6. MDT commissioning</div>
<div class="tb" style="left:80px;top:1048.4px">
<div class="l i">In the MDTs 1090 of 1150 chambers are installed</div>
<div class="l">and 99.6% are working. The remaining few chambers</div>
<div class="l">will be installed over the coming year. Figure 10 shows</div>
<div class="l e">the MDT occupancy for cosmic-ray data.</div>
<div class="l i">Track reconstruction has been carefully studied in</div>
<div class="l">the spectrometer. Figure 11 shows the distribution</div>
<div class="l">of the number of hits in track segments reconstructed</div>
<div class="l">in MDT chambers. The distribution shows peaks at 6</div></div>
<div class="cap" style="left:462px;top:518px"><div class="l">Figure 7: The correlation of TGC-MDT hits vs η. Hori-</div><div class="l e">zontal and vertical lines are due to noisy chambers.</div></div>
<div class="cap" style="left:462px;top:824px"><div class="l e">Figure 8: TGC efficiency versus operating voltage.</div></div>
<div class="tb" style="left:462px;top:875.4px">
<div class="l">and 8 hits which correspond to the number of tube lay-</div>
<div class="l">ers in MDT chambers. Studies of track reconstruction</div>
<div class="l">in MDTs show that the efficiency of reconstruction</div>
<div class="l">of track segments within chambers is &gt; 98%. This</div>
<div class="l">efficiency was determined extrapolating tracks recon-</div>
<div class="l">structed from 2 chambers to a 3<sup>rd</sup> chamber traversed</div>
<div class="l">by the track and then checking for a segment match-</div>
<div class="l">ing the incident track. Figure 12 shows the segment</div>
<div class="l e">efficiency in the MDT middle barrel layer.</div>
<div class="l i">MDTs require calibrations to determine a timing</div>
<div class="l">offset (T<sub>0</sub>), and a time-to-space function (RT func-</div>
<div class="l">tion). These calibrations will be performed with a</div>
<div class="l">special data stream from the level-2 trigger which will</div>
<div class="l">deliver up to 10× the regular rate of single muons</div>
<div class="l">to provide high statistics for calibrations. This data</div>
<div class="l">stream will be processed at 3 off-site calibration cen-</div>
<div class="l e">ters in Rome, Munich, and Michigan.</div>
<div class="l i">The T<sub>0</sub>'s are determined by fitting the rising edge of</div></div>
</div>

<!-- PAGE 4 -->
<div class="pg" style="left:2781px">
<div class="pn" style="left:40px">4</div>
<div class="hdr" style="left:427px">Proceedings of the DPF-2009 Conference, Detroit, MI, July 27-31, 2009</div>
<div class="cap" style="left:80px;top:422px"><div class="l">Figure 9: CSC Resolution as function of relative track an-</div><div class="l">gle as measured with cosmic rays. Tracks from interaction</div><div class="l e">point will all be with 4°.</div></div>
<div class="cap" style="left:80px;top:790px"><div class="l">Figure 10: MDT Occupancy as a function of η and φ (sec-</div><div class="l">tor). The reddish higher occupancy regions are due to the</div><div class="l e">access shafts which allow in more cosmic rays.</div></div>
<div class="tb" style="left:80px;top:873.4px">
<div class="l">the drift time spectrum with a Fermi-Dirac function as</div>
<div class="l">shown in Figure 13. The RT function is determined by</div>
<div class="l">an autocalibration technique minimizing track residu-</div>
<div class="l">als using either chamber data, or data from an MDT</div>
<div class="l">monitoring chamber on the surface which samples the</div>
<div class="l">MDT gas. Figure 14 shows an example of tracking</div>
<div class="l">residuals versus tube radius after RT auto-calibration.</div>
<div class="l">Additional details about the ATLAS MDT calibration</div>
<div class="l">process are discussed in more detail in the DPF talk</div>
<div class="l">of S. McKee (“ATLAS Great Lakes Tier-2 Comput-</div>
<div class="l">ing and Muon Calibration Center Commissioning”)</div>
<div class="l e">and in [2].</div>
<div class="l i">Figure 15 shows the MDT resolution versus tube ra-</div>
<div class="l">dius as measured with both cosmic rays and testbeam</div>
<div class="l">data[3]. The resolution obtained with cosmic-ray data</div>
<div class="l">is poorer than that measured in testbeam data. The</div>
<div class="l">cosmic-ray resolution could be matched roughly by</div>
<div class="l">adding an additional jitter of about 2 ns to testbeam</div></div>
<div class="cap" style="left:462px;top:521px"><div class="l">Figure 11: Number of hits in MDT segments (i.e. track</div><div class="l">segment reconstructed within a single MDT chamber).</div><div class="l">Complete tracks combine segments from 3 MDT cham-</div><div class="l e">bers.</div></div>
<div class="cap" style="left:462px;top:933px"><div class="l">Figure 12: Segment efficiency in the MDT middle barrel</div><div class="l">layer. Cutouts at φ=12,14 for ATLAS support structures</div><div class="l e">are clearly visible.</div></div>
<div class="tb" style="left:462px;top:1049.4px">
<div class="l">plot. The decrease in resolution for cosmic rays is due</div>
<div class="l">to the non-synchronous arrival of cosmic rays com-</div>
<div class="l">pared to the 25 ns beam clock which is used for clock-</div>
<div class="l">ing the drift time measurements. This cosmic-ray jit-</div>
<div class="l">ter is mostly removed with an event-by-event T<sub>0</sub> fitting</div>
<div class="l">procedure, but a residual jitter remains. We expect</div>
<div class="l">that with collision data we will be able to match the</div>
<div class="l e">testbeam resolution.</div></div>
</div>

<!-- PAGE 5 -->
<div class="pg" style="left:3708px">
<div class="hdr" style="left:467px">Proceedings of the DPF-2009 Conference, Detroit, MI, July 27-31, 2009</div>
<div class="pn" style="left:850px">5</div>
<div class="cap" style="left:80px;top:542px"><div class="l">Figure 13: MDT drift time spectrum with T<sub>0</sub> fit shown in</div><div class="l e">red.</div></div>
<div class="cap" style="left:80px;top:840px"><div class="l">Figure 14: MDT tracking residuals vs tube radius after</div><div class="l e">autocalibration. Distribution is flat and narrow.</div></div>
<div class="h" style="left:80px;top:903px">7. Alignment system commissioning</div>
<div class="tb" style="left:80px;top:945.4px">
<div class="l i">The ATLAS muon spectrometer has separate op-</div>
<div class="l">tical alignment systems for the barrel and endcap.</div>
<div class="l">These employ a network of sensors to provide a 3D</div>
<div class="l">reconstruction of detector positions, which are essen-</div>
<div class="l">tial for the muon sagitta measurement, and therefore</div>
<div class="l">momentum measurement of muons. The endcap opti-</div>
<div class="l">cal system has been validated by looking at the “false”</div>
<div class="l">sagitta of straight tracks (i.e. with no magnetic field)</div>
<div class="l">which pass through the 3 endcap wheels. A track is re-</div>
<div class="l">constructed by hits on the inner and outer wheels and</div>
<div class="l">a sagitta calculated relative to this track using hits</div>
<div class="l">from the middle wheel as shown in Figure 16. Figure</div>
<div class="l">17 shows the sagitta distribution with and without the</div>
<div class="l">alignment corrections applied. Without corrections,</div></div>
<div class="cap" style="left:462px;top:529px"><div class="l">Figure 15: MDT resolution for cosmic-ray and testbeam</div><div class="l e">data. See text for explanation.</div></div>
<div class="tb" style="left:462px;top:597.4px">
<div class="l">using nominal geometry, the sagitta distribution is</div>
<div class="l">broad and distorted. When alignment corrections are</div>
<div class="l">applied the distribution is centered on zero to within</div>
<div class="l">15 μm, (i.e. no net sagitta, as expected for straight</div>
<div class="l">tracks) with a much narrower and uniform shape. The</div>
<div class="l">width of the distribution is primarily due to multiple</div>
<div class="l e">scattering which is relatively high in cosmic rays.</div></div>
<div class="cap" style="left:462px;top:992px"><div class="l e">Figure 16: Sagitta definition for alignment studies.</div></div>
<div class="tb" style="left:462px;top:1032.4px">
<div class="l i">Figure 18 shows sagitta measurements for barrel</div>
<div class="l">tracks, with and without alignment corrections. For</div>
<div class="l">the barrel the alignment corrections were derived from</div>
<div class="l">both optical sensors and straight tracks, since the</div>
<div class="l">optical system of the barrel only covers half of the</div>
<div class="l">chambers. The corrections from straight tracks work</div>
<div class="l">considerably better those from the barrel optical sys-</div>
<div class="l">tem, due to some limitations in the optical system</div>
<div class="l">which are being addressed by additional commission-</div></div>
</div>
</div>

<script>
// ---------- chart data ----------
const f2Eta8 = [0, 0.5, 0.9, 1.0, 1.05, 1.2, 1.35, 1.45, 1.5, 1.55, 1.6, 1.8, 2.0, 2.2, 2.4, 2.6, 2.7];
const f2Bdl8 = [3.0, 3.2, 4.5, 5.3, 5.4, 4.5, 2.8, 2.0, -1.0, -1.8, 0.5, 3.0, 4.4, 5.1, 5.4, 4.8, 3.5];
const f2Eta0 = [0, 0.5, 1.0, 1.2, 1.35, 1.42, 1.5, 1.6, 1.8, 2.0, 2.2, 2.4, 2.5, 2.6, 2.7];
const f2Bdl0 = [1.4, 2.0, 2.8, 2.2, 0.5, -0.5, 4.5, 5.2, 5.0, 5.6, 6.6, 7.4, 7.0, 5.0, 1.5];
const f2YTicks = [8, 6, 4, 2, 0, -2];
const f2XTicks = [0, 0.5, 1, 1.5, 2, 2.5];

const f3Rate = [0, 0.2, 0.4, 0.6, 0.8, 1, 1.3, 1.6, 2, 2.5, 3, 3.5, 4, 4.5, 5, 5.5, 6, 6.5, 7, 7.5, 8, 8.5, 9, 9.5, 10];
const f3Counts = [600000, 60000, 9000, 3000, 1500, 900, 500, 300, 200, 120, 80, 60, 40, 35, 25, 20, 18, 15, 12, 10, 8, 6, 4, 3, 2];
const f3YLabels = ['1', '10', '10²', '10³', '10⁴', '10⁵', '10⁶'];
const f3XTicks = [0, 1, 2, 3, 4, 5, 6, 7, 8, 9, 10];

const f5Ticks = [-8, -6, -4, -2, 0, 2, 4, 6, 8];
const f5CbarLabels = ['0.9', '0.8', '0.7', '0.6', '0.5', '0.4', '0.3', '0.2', '0.1', '0'];

const f6Ticks = [-1000, -500, 0, 500, 1000];

const f7Ticks = [1.2, 1.4, 1.6, 1.8, 2, 2.2, 2.4, 2.6];

const f8Voltage = [2650, 2750, 2800, 2850];
const f8A23 = [69.5, 88.5, 93.5, 93.5];
const f8C23 = [70.5, 88, 93, 93.5];
const f8A1 = [72.5, 87, 94, 96];
const f8C1 = [74, 88, 93.5, 95];
const f8YTicks = [65, 70, 75, 80, 85, 90, 95, 100];
const f8XTicks = [2650, 2700, 2750, 2800, 2850];
const f8Names = ['TGC2/3-Aside', 'TGC2/3-Cside', 'TGC1-Aside', 'TGC1-Cside'];

const f9Angle = [2.5, 3.5, 4.5, 5.5, 6.5, 7.5, 8.5, 9.5, 10.5, 11.5, 12.5, 13.5, 14.5, 15.5, 16.5, 17.5, 18.5, 19.5];
const f9Res = [57, 57, 67, 68, 72, 85, 87, 95, 92, 103, 108, 110, 110, 111, 113, 113, 134, 134];
const f9YTicks = [0, 20, 40, 60, 80, 100, 120, 140];
const f9XTicks = [0, 2, 4, 6, 8, 10, 12, 14, 16, 18, 20];

const f10Sectors = ['Sector 1','Sector 2','Sector 3','Sector 4','Sector 5','Sector 6','Sector 7','Sector 8','Sector 9','Sector 10','Sector 11','Sector 12','Sector 13','Sector 14','Sector 15','Sector 16'];

const f11AllSeg = [0, 0, 0, 12500, 9300, 7600, 22900, 7100, 10400, 4400, 3200, 2000, 1500, 900, 700, 500, 300, 200, 150, 100];
const f11OnTrack = [0, 0, 0, 2800, 2800, 4200, 16800, 5000, 8300, 3600, 2700, 1700, 1200, 800, 500, 400, 250, 150, 100, 80];
const f11YTicks = [0, 2000, 4000, 6000, 8000, 10000, 12000, 14000, 16000, 18000, 20000, 22000, 24000];
const f11XTicks = [0, 2, 4, 6, 8, 10, 12, 14, 16, 18, 20];

const f12YTicks = [2, 4, 6, 8, 10, 12, 14, 16];
const f12XTicks = [-5, 0, 5];
const f12CbarLabels = ['1', '0.9', '0.8', '0.7', '0.6', '0.5', '0.4', '0.3'];

const f13RiseT = [0, 440, 470, 500, 530, 560, 590];
const f13RiseN = [0, 0, 100, 800, 2200, 3600, 3900];
const f13DecayT = [590, 620, 650, 700, 750, 800, 850, 900, 1000, 1100, 1150];
const f13DecayN = [3900, 3300, 2700, 2000, 1500, 1150, 900, 750, 560, 450, 420];
const f13FallT = [1000, 1100, 1200, 1240, 1280, 1320, 1960];
const f13FallN = [560, 480, 380, 250, 60, 0, 0];
const f13YTicks = [0, 500, 1000, 1500, 2000, 2500, 3000, 3500, 4000, 4500];
const f13XTicks = [200, 400, 600, 800, 1000, 1200, 1400, 1600, 1800];

const f14Radius = [0.3,0.4,0.5,0.6,0.8,1.0,1.2,1.4,1.6,1.8,2.0,2.2,2.4,2.6,2.8,3.0,3.3,3.6,3.9,4.2,4.5,4.8,5.1,5.4,5.7,6.0,6.3,6.6,6.9,7.2,7.5,7.8,8.1,8.4,8.7,9.0,9.3,9.6,9.9,10.2,10.5,10.8,11.1,11.4,11.7,12.0,12.3,12.6,12.9,13.2,13.5,13.8,14.1,14.3,14.6];
const f14Resid = [0.11,0.065,0.05,0.01,0.005,-0.02,-0.01,-0.015,0.005,-0.01,-0.015,0.01,-0.02,-0.03,-0.025,-0.015,-0.025,-0.035,-0.02,-0.015,-0.005,-0.025,-0.02,-0.01,-0.02,0.0,-0.015,-0.025,-0.02,-0.01,-0.025,-0.015,-0.02,-0.03,-0.01,-0.02,-0.015,-0.005,-0.02,-0.025,-0.015,-0.03,-0.01,-0.02,-0.03,-0.025,-0.035,-0.03,-0.02,-0.035,-0.03,-0.01,-0.04,-0.065,-0.095];
const f14Fit = [-0.015, -0.015];
const f14FitR = [0.5, 13];
const f14YTicks = [0.15, 0.1, 0.05, 0, -0.05, -0.1, -0.15];
const f14XTicks = [0, 2, 4, 6, 8, 10, 12, 14];

const f15RadiusTB = [0.5, 1, 2, 3, 4, 6, 8, 10, 12, 14.5];
const f15TestBeam = [0.205, 0.18, 0.153, 0.133, 0.120, 0.093, 0.073, 0.066, 0.060, 0.056];
const f15Radius = [0, 2, 4, 6, 8, 10, 12, 14.5];
const f15Plus2 = [0.268, 0.207, 0.167, 0.127, 0.088, 0.073, 0.067, 0.060];
const f15Plus3 = [0.279, 0.235, 0.19, 0.14, 0.095, 0.078, 0.07, 0.062];
const f15BandLo = [0.24, 0.19, 0.15, 0.115, 0.09, 0.077, 0.07, 0.064];
const f15BandHi = [0.265, 0.21, 0.165, 0.13, 0.105, 0.09, 0.082, 0.075];
const f15YTicks = [0.05, 0.1, 0.15, 0.2, 0.25];
const f15XTicks = [0, 2, 4, 6, 8, 10, 12, 14, 16];

// ---------- helpers ----------
const NS = 'http://www.w3.org/2000/svg';
function mk(tag, attrs, parent) {
  const e = document.createElementNS(NS, tag);
  for (const k in attrs) e.setAttribute(k, attrs[k]);
  parent.appendChild(e);
  return e;
}
function label(parent, x, y, s, size, anchor) {
  const t = mk('text', {x: x, y: y, 'font-size': size, 'text-anchor': anchor}, parent);
  t.textContent = s;
  return t;
}
function yAxis(parent, vals, labels, yf, x0, x1, size) {
  vals.forEach(function (v, i) {
    const tk = mk('line', {x1: x0, y1: yf(v), x2: x0 + 5, y2: yf(v), stroke: '#222'}, parent);
    
    
    const tk2 = mk('line', {x1: x1 - 5, y1: yf(v), x2: x1, y2: yf(v), stroke: '#222'}, parent);
    
    
    const t = label(parent, x0 - 3, yf(v) + size * 0.35, labels[i], size, 'end');
    
    
  });
}
function xAxis(parent, vals, labels, xf, y0, y1, size) {
  vals.forEach(function (v, i) {
    const tk = mk('line', {x1: xf(v), y1: y0, x2: xf(v), y2: y0 - 6, stroke: '#222'}, parent);
    
    
    const tk2 = mk('line', {x1: xf(v), y1: y1, x2: xf(v), y2: y1 + 5, stroke: '#222'}, parent);
    
    
    const t = label(parent, xf(v), y0 + size + 2, labels[i], size, 'middle');
    
    
  });
}
function line(parent, xs, ys, xf, yf, color, w, name) {
  const pts = xs.map(function (x, i) { return xf(x) + ',' + yf(ys[i]); }).join(' ');
  const p = mk('polyline', {points: pts, fill: 'none', stroke: color, 'stroke-width': w}, parent);
  
  
  return p;
}
function stepPath(vals, xf, yf) {
  let d = 'M' + xf(0) + ',' + yf(0);
  vals.forEach(function (v, i) { d += ' L' + xf(i) + ',' + yf(v) + ' L' + xf(i + 1) + ',' + yf(v); });
  return d + ' L' + xf(vals.length) + ',' + yf(0);
}

// Figure 2
(function () {
  const g = document.getElementById('f2g');
  const xf = v => 1051 + v * 100, yf = v => 328 + (8 - v) * 17.7;
  yAxis(g, f2YTicks, f2YTicks.map(String), yf, 1051, 1341, 10);
  xAxis(g, f2XTicks, f2XTicks.map(String), xf, 512, 328, 10);
  line(g, f2Eta8, f2Bdl8, xf, yf, '#222', 1, 'series-phi-pi-over-8');
  line(g, f2Eta0, f2Bdl0, xf, yf, '#e02020', 1.2, 'series-phi-0');
})();

// Figure 3
(function () {
  const g = document.getElementById('f3g');
  const xf = v => 1463 + v * 20.9, yf = v => 398 - Math.log10(Math.max(v, 1)) * 33;
  yAxis(g, [1, 10, 100, 1000, 1e4, 1e5, 1e6], f3YLabels, yf, 1463, 1672, 8);
  xAxis(g, f3XTicks, f3XTicks.map(String), xf, 398, 198, 8);
  let d = 'M' + xf(f3Rate[0]) + ',' + yf(f3Counts[0]);
  for (let i = 1; i < f3Rate.length; i++) d += ' H' + xf(f3Rate[i]) + ' V' + yf(f3Counts[i]);
  const p = mk('path', {d: d, fill: 'none', stroke: '#333', 'stroke-width': 1}, g);
  
  
})();

// Figure 5 ticks
(function () {
  const g = document.getElementById('f5g');
  const xf = v => 2111 + v * 15.2, yf = v => 339 - v * 14.3;
  yAxis(g, f5Ticks, f5Ticks.map(String), yf, 1972, 2251, 10);
  xAxis(g, f5Ticks, f5Ticks.map(String), xf, 467, 207, 10);
  f5CbarLabels.forEach(function (s, i) {
    const t = label(g, 2269, 235 + i * 23.3, s, 7, 'start');
    
    
  });
})();

// Figure 6 ticks
(function () {
  const g = document.getElementById('f6g');
  const xf = v => 2130 + v * 0.098, yf = v => 746 - v * 0.093;
  yAxis(g, f6Ticks, f6Ticks.map(String), yf, 1993, 2268, 13);
  xAxis(g, f6Ticks, f6Ticks.map(String), xf, 875, 614, 13);
})();

// Figure 7 ticks
(function () {
  const g = document.getElementById('f7g');
  const xf = v => 2392 + (v - 1.2) * 172, yf = v => 437 - (v - 1.2) * 164;
  yAxis(g, f7Ticks, f7Ticks.map(String), yf, 2376, 2651, 13);
  xAxis(g, f7Ticks, f7Ticks.map(String), xf, 452, 191, 13);
})();

// Figure 8
(function () {
  const g = document.getElementById('f8g');
  const xf = v => 2397 + (v - 2650) * 1.22, yf = v => 770 - (v - 65) * 5;
  f8YTicks.forEach(function (v) {
    const gl = mk('line', {x1: 2373, y1: yf(v), x2: 2664, y2: yf(v), stroke: '#ddd'}, g);
    
    
  });
  f8XTicks.forEach(function (v) {
    const gl = mk('line', {x1: xf(v), y1: 595, x2: xf(v), y2: 770, stroke: '#ddd'}, g);
    
    
  });
  yAxis(g, f8YTicks, f8YTicks.map(String), yf, 2373, 2664, 9.5);
  xAxis(g, f8XTicks, f8XTicks.map(String), xf, 770, 595, 9.5);
  function filled(s) { return s[2] === 'dot' || s[2] === 'sq'; }
  const series = [[f8A23, '#e02020', 'dot', -2], [f8C23, '#1030e0', 'sq', 2], [f8A1, '#f06060', 'ocirc', -1], [f8C1, '#6070f0', 'osq', 1]];
  series.forEach(function (s, k) {
    const xs = f8Voltage.map(v => v + s[3] * 2);
    line(g, xs, s[0], xf, yf, s[1], 1, 'efficiency-line-' + k);
    xs.forEach(function (x, i) {
      const cx = xf(x), cy = yf(s[0][i]);
      const m = (s[2] === 'dot' || s[2] === 'ocirc') ? mk('circle', {cx: cx, cy: cy, r: 2.5, fill: filled(s) ? s[1] : '#fff', stroke: s[1]}, g) : mk('rect', {x: cx - 2.5, y: cy - 2.5, width: 5, height: 5, fill: filled(s) ? s[1] : '#fff', stroke: s[1]}, g);
      
      
    });
    const ll = mk('line', {x1: 2560, y1: 709 + k * 13, x2: 2580, y2: 709 + k * 13, stroke: s[1], 'stroke-dasharray': filled(s) ? '2,2' : 'none'}, g);
    
    
    const lt = label(g, 2585, 712 + k * 13, f8Names[k], 7, 'start');
    
    
  });
})();

// Figure 9
(function () {
  const g = document.getElementById('f9g');
  const xf = v => 2899 + v * 13.95, yf = v => 386 - v * 1.214;
  yAxis(g, f9YTicks, f9YTicks.map(String), yf, 2899, 3178, 8);
  xAxis(g, f9XTicks, f9XTicks.map(String), xf, 386, 198, 8);
  f9Angle.forEach(function (a, i) {
    const h = mk('line', {x1: xf(a - 0.5), y1: yf(f9Res[i]), x2: xf(a + 0.5), y2: yf(f9Res[i]), stroke: '#111'}, g);
    
    
    const v = mk('line', {x1: xf(a), y1: yf(f9Res[i] - 8), x2: xf(a), y2: yf(f9Res[i] + 8), stroke: '#111'}, g);
    
    
  });
})();

// Figure 10 sector labels
(function () {
  const g = document.getElementById('f10g');
  f10Sectors.forEach(function (s, i) {
    const t = label(g, 2867, 523 + i * 15.6, s, 4.5, 'start');
    
    
  });
})();

// Figure 11
(function () {
  const g = document.getElementById('f11g');
  const xf = v => 3303 + v * 13.76, yf = v => 453 - v * 262 / 24000;
  yAxis(g, f11YTicks, f11YTicks.map(String), yf, 3303, 3578, 13);
  xAxis(g, f11XTicks, f11XTicks.map(String), xf, 453, 191, 13);
  const p1 = mk('path', {d: stepPath(f11AllSeg, xf, yf), fill: 'none', stroke: '#000', 'stroke-width': 1.2}, g);
  
  
  const p2 = mk('path', {d: stepPath(f11OnTrack, xf, yf), fill: 'none', stroke: '#33e033', 'stroke-width': 1.2}, g);
  
  
})();

// Figure 12 ticks
(function () {
  const g = document.getElementById('f12g');
  const xf = v => 3410 + v * 14.6, yf = v => 668 + (16 - v) * 13.5;
  yAxis(g, f12YTicks, f12YTicks.map(String), yf, 3299, 3533, 12);
  xAxis(g, f12XTicks, f12XTicks.map(String), xf, 877, 661, 12);
  f12CbarLabels.forEach(function (s, i) {
    const t = label(g, 3554, 667 + i * 30.3, s, 12, 'start');
    t.setAttribute('font-weight', 'bold');
    
    
  });
})();

// Figure 13
(function () {
  const g = document.getElementById('f13g');
  const xf = v => 3862 + (v - 200) * 0.1519, yf = v => 497 - v * 0.0589;
  yAxis(g, f13YTicks, f13YTicks.map(String), yf, 3834, 4128, 10);
  xAxis(g, f13XTicks, f13XTicks.map(String), xf, 497, 182, 10);
  line(g, [0, 1960], [0, 0], xf, yf, '#222', 1, 'baseline');
  line(g, f13DecayT, f13DecayN, xf, yf, '#000', 3, 'drift-spectrum-data');
  line(g, f13RiseT, f13RiseN, xf, yf, '#ff0000', 2.5, 'fermi-dirac-t0-fit');
  line(g, f13FallT, f13FallN, xf, yf, '#1010e0', 2.5, 'tmax-fit');
})();

// Figure 14
(function () {
  const g = document.getElementById('f14g');
  const xf = v => 3847 + v * 18.2, yf = v => 702 - v * 640;
  yAxis(g, f14YTicks, f14YTicks.map(String), yf, 3847, 4121, 9);
  xAxis(g, f14XTicks, f14XTicks.map(String), xf, 798, 606, 9);
  line(g, f14FitR, f14Fit, xf, yf, '#e02020', 1.2, 'residual-fit-line');
  const n = Math.min(f14Radius.length, f14Resid.length);
  for (let i = 0; i < n; i++) {
    const c = mk('circle', {cx: xf(f14Radius[i]), cy: yf(f14Resid[i]), r: 2, fill: '#000'}, g);
    
    
  }
})();

// Figure 15
(function () {
  const g = document.getElementById('f15g');
  const xf = v => 4228 + v * 18.06, yf = v => 464 - (v - 0.05) * 1154;
  yAxis(g, f15YTicks, f15YTicks.map(String), yf, 4228, 4517, 13);
  xAxis(g, f15XTicks, f15XTicks.map(String), xf, 474, 181, 14);
  let pts = f15Radius.map((r, i) => xf(r) + ',' + yf(f15BandHi[i]));
  pts = pts.concat(f15Radius.slice().reverse().map((r, i) => xf(r) + ',' + yf(f15BandLo[f15BandLo.length - 1 - i])));
  const band = mk('polygon', {points: pts.join(' '), fill: '#00ee00'}, g);
  
  
  line(g, f15RadiusTB, f15TestBeam, xf, yf, '#000', 1.8, 'test-beam-line');
  line(g, f15Radius, f15Plus2, xf, yf, '#ff4040', 1.2, 'test-beam-plus-2ns-line');
  line(g, f15Radius, f15Plus3, xf, yf, '#2020d0', 1.2, 'test-beam-plus-3ns-line');
})();
</script>
</body></html>
